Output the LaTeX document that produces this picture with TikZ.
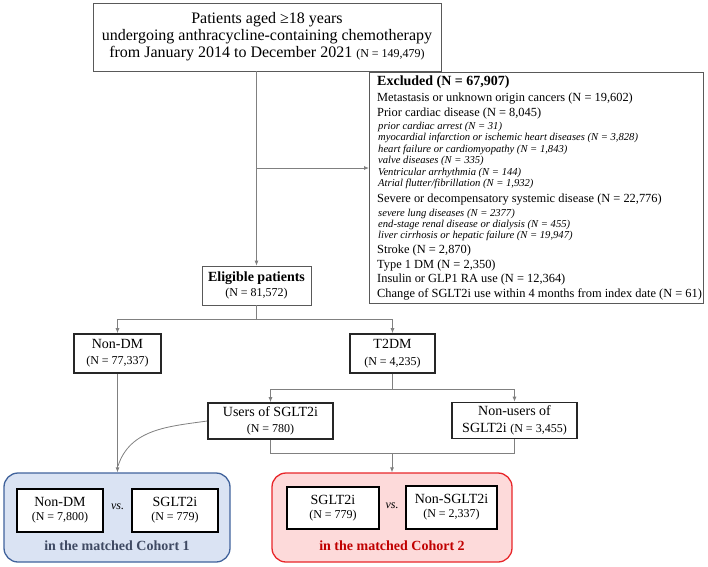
\documentclass[tikz,border=0pt]{standalone}
\usepackage{fontspec}
\setmainfont{Liberation Serif}
\usetikzlibrary{arrows.meta}
\definecolor{cAfill}{HTML}{DAE3F3}
\definecolor{cAdraw}{HTML}{41639C}
\definecolor{cAtext}{HTML}{3F4A63}
\definecolor{cBfill}{HTML}{FDDADA}
\definecolor{cBdraw}{HTML}{E8262A}
\definecolor{cBtext}{HTML}{C00000}
\definecolor{lgray}{HTML}{808080}
\definecolor{bgray}{HTML}{595959}
\newcommand{\myfs}[2]{\fontsize{#1}{#2}\selectfont}
\begin{document}
\begin{tikzpicture}[x=1pt,y=-1pt,
  thinbox/.style={draw=bgray, line width=0.8pt, fill=white, inner sep=0pt, align=center},
  thickbox/.style={draw=black!85, line width=1.6pt, fill=white, inner sep=0pt, align=center},
  innerbox/.style={draw=black, line width=1.8pt, fill=white, inner sep=0pt, align=center,
     minimum height=43pt, font=\myfs{14}{14}},
  conn/.style={draw=lgray, line width=0.8pt},
  arr/.style={conn, -{Latex[length=5pt,width=4pt]}},
  exrow/.style={anchor=west, inner sep=0pt, font=\myfs{12.4}{14}},
  exit/.style={anchor=west, inner sep=0pt, font=\itshape\myfs{10.6}{12}},
  cohort/.style={rounded corners=14pt, line width=1.3pt, minimum width=#1, minimum height=89pt, inner sep=0pt}
]
\useasboundingbox (0,0) rectangle (708,566);

% top box
\node[thinbox, minimum width=348pt, minimum height=68pt, font=\myfs{16}{17}] (top) at (267,37)
  {Patients aged ≥18 years\\undergoing anthracycline-containing chemotherapy\\from January 2014 to December 2021 {\myfs{12}{17}(N = 149,479)}};

% eligible
\node[thinbox, minimum width=109pt, minimum height=39pt, font=\myfs{14}{15.5}] (elig) at (256.5,285.5)
  {\textbf{Eligible patients}\\{\myfs{12}{15.5}(N = 81,572)}};

% excluded
\node[thinbox, minimum width=334pt, minimum height=231pt] (excl) at (536,187.5) {};
\node[anchor=west, inner sep=0pt, font=\bfseries\myfs{14}{16}] (e0) at (377,82) {Excluded (N = 67,907)};
\node[exrow] (e1) at (377,99) {Metastasis or unknown origin cancers (N = 19,602)};
\node[exrow] (e2) at (377,113.5) {Prior cardiac disease (N = 8,045)};
\node[exit] (e3) at (378,127) {prior cardiac arrest (N = 31)};
\node[exit] (e4) at (378,138.4) {myocardial infarction or ischemic heart diseases (N = 3,828)};
\node[exit] (e5) at (378,149.8) {heart failure or cardiomyopathy (N = 1,843)};
\node[exit] (e6) at (378,161.2) {valve diseases (N = 335)};
\node[exit] (e7) at (378,172.6) {Ventricular arrhythmia (N = 144)};
\node[exit] (e8) at (378,184) {Atrial flutter/fibrillation (N = 1,932)};
\node[exrow] (e9) at (377,200) {Severe or decompensatory systemic disease (N = 22,776)};
\node[exit] (e10) at (378,213.5) {severe lung diseases (N = 2377)};
\node[exit] (e11) at (378,224.7) {end-stage renal disease or dialysis (N = 455)};
\node[exit] (e12) at (378,235.9) {liver cirrhosis or hepatic failure (N = 19,947)};
\node[exrow] (e13) at (377,251) {Stroke (N = 2,870)};
\node[exrow] (e14) at (377,265.5) {Type 1 DM (N = 2,350)};
\node[exrow] (e15) at (377,280) {Insulin or GLP1 RA use (N = 12,364)};
\node[exrow] (e16) at (377,294.5) {Change of SGLT2i use within 4 months from index date (N = 61)};

% level 2
\node[thickbox, minimum width=87pt, minimum height=39pt, font=\myfs{14}{16}] (nondm) at (117.5,353.5)
  {Non-DM\\{\myfs{12}{16}(N = 77,337)}};
\node[thickbox, minimum width=85pt, minimum height=39pt, font=\myfs{14}{17}] (t2dm) at (392.5,353.5)
  {T2DM\\{\myfs{12}{17}(N = 4,235)}};

% level 3
\node[thickbox, minimum width=125pt, minimum height=36pt, font=\myfs{14}{15.5}] (users) at (270.5,421)
  {Users of SGLT2i\\{\myfs{12}{15.5}(N = 780)}};
\node[thickbox, minimum width=125pt, minimum height=36pt, font=\myfs{14}{17}] (nonusers) at (514.5,420.5)
  {Non-users of\\SGLT2i {\myfs{12}{17}(N = 3,455)}};

% cohorts
\node[cohort=226pt, draw=cAdraw, fill=cAfill] (coh1) at (117,517.5) {};
\node[cohort=240pt, draw=cBdraw, fill=cBfill] (coh2) at (392,517.5) {};

\node[innerbox, minimum width=86pt] (c1a) at (60,510.5) {Non-DM\\{\myfs{12}{14}(N = 7,800)}};
\node[innerbox, minimum width=86pt] (c1b) at (175,510.5) {SGLT2i\\{\myfs{12}{14}(N = 779)}};
\node[inner sep=0pt, font=\itshape\myfs{12}{14}] (vs1) at (117.5,507) {vs.};
\node[inner sep=0pt, font=\bfseries\myfs{14}{16}, text=cAtext] (lab1) at (117,546) {in the matched Cohort 1};

\node[innerbox, minimum width=92pt, minimum height=42pt] (c2a) at (333,508) {SGLT2i\\{\myfs{12}{14}(N = 779)}};
\node[innerbox, minimum width=91pt] (c2b) at (451.5,507.5) {Non-SGLT2i\\{\myfs{12}{14}(N = 2,337)}};
\node[inner sep=0pt, font=\itshape\myfs{12}{14}] (vs2) at (392,506) {vs.};
\node[inner sep=0pt, font=\bfseries\myfs{14}{16}, text=cBtext] (lab2) at (392,546) {in the matched Cohort 2};

% connectors
\coordinate (exin) at (369,168);
\coordinate (j0) at (256.5,71);
\draw[arr] (j0) -- (elig.north);
\draw[arr] (elig.north |- exin) -- (exin);
\draw[arr] (elig.south) -- ++(0,14) -| (nondm.north);
\draw[arr] (elig.south) -- ++(0,14) -| (t2dm.north);
\draw[arr] (t2dm.south) -- ++(0,16) -| (users.north);
\draw[arr] (t2dm.south) -- ++(0,16) -| (nonusers.north);
\coordinate (mj) at (392,453);
\draw[conn] (users.south) -- (users.south |- mj) -- (nonusers.south |- mj) -- (nonusers.south);
\draw[arr] (mj) -- (coh2.north);
\draw[arr] (nondm.south) -- (nondm.south |- coh1.north);
\coordinate (cv) at (118,466);
\draw[conn] (users.west) to[out=188,in=72] (cv);
\end{tikzpicture}
\end{document}
